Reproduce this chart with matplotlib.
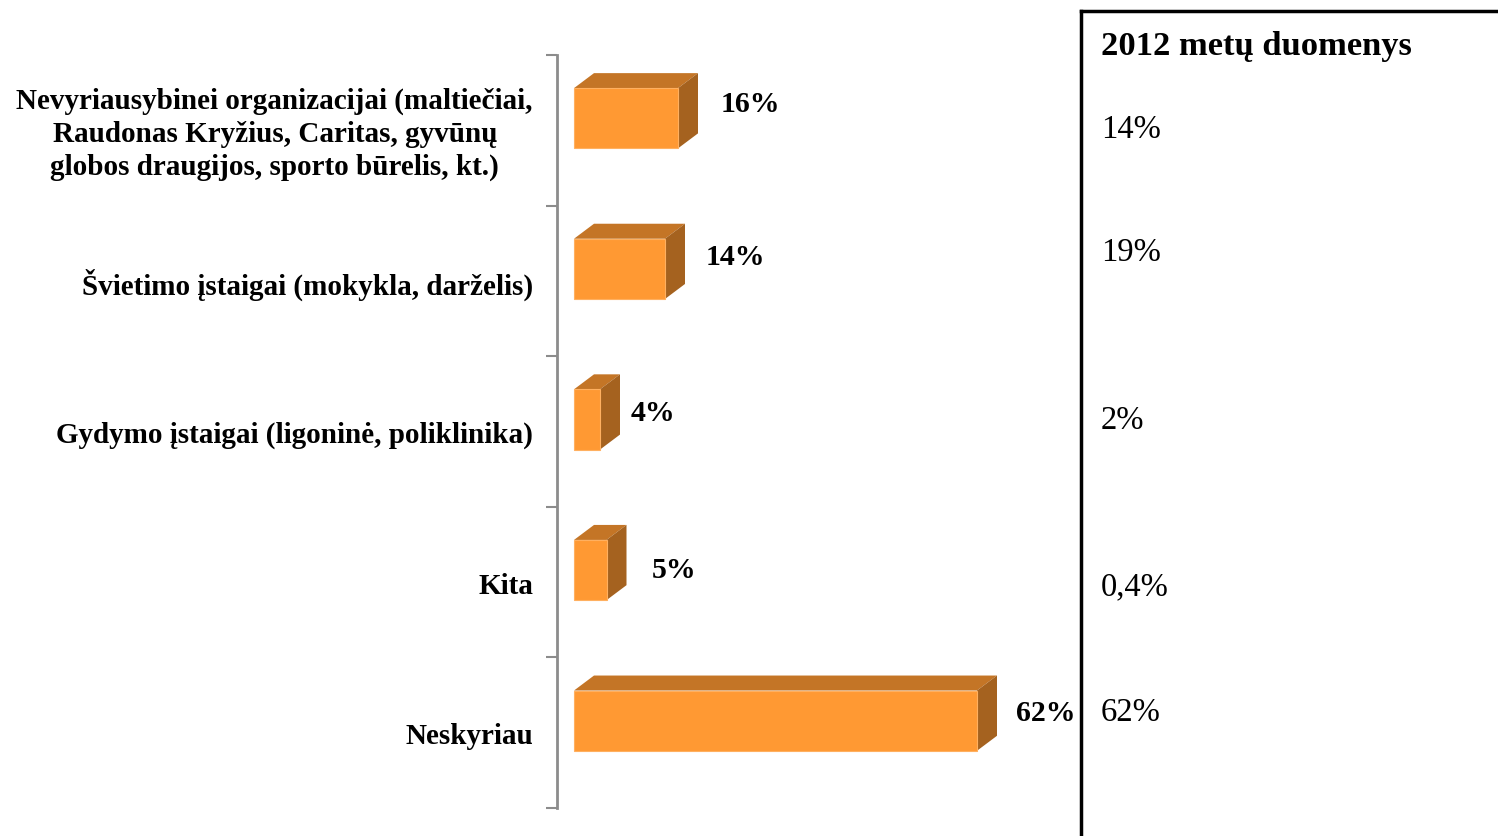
import matplotlib.pyplot as plt
from matplotlib.patches import Polygon
import numpy as np

plt.rcParams['font.family'] = ['Liberation Serif', 'DejaVu Serif']

categories = [
    "Nevyriausybinei organizacijai (maltiečiai,\nRaudonas Kryžius, Caritas, gyvūnų\nglobos draugijos, sporto būrelis, kt.)",
    "Švietimo įstaigai (mokykla, darželis)",
    "Gydymo įstaigai (ligoninė, poliklinika)",
    "Kita",
    "Neskyriau",
]
values = [16, 14, 4, 5, 62]
labels_2012 = ["14%", "19%", "2%", "0,4%", "62%"]
title_2012 = "2012 metų duomenys"

# layout (pixels)
W, H = 1498, 836
y_2012_px = [130, 253, 421, 587, 713]
lab_dx_px = [23, 21, 11, 25, 19]
lab_dy_px = [-14, -11, -6, 0, -7]
front = "#FF9933"
top_c = "#C47526"
side_c = "#A5621F"

fig = plt.figure(figsize=(W / 100, H / 100), dpi=100)
ax = fig.add_axes([557 / W, 1 - 808 / H, (1081 - 557) / W, (808 - 55) / H])

ppu = 6.5  # px per percent
ppy = (808 - 55) / 5.0
x0 = -17 / ppu
ax.set_xlim(x0, x0 + (1081 - 557) / ppu)
ax.set_ylim(len(values) - 0.5, -0.5)

y = np.arange(len(values))
h = 0.4
shift = -0.08
dx = 20 / ppu
dy = 15 / ppy

ax.barh(y + shift, values, height=h, color=front, edgecolor="#FFB060", linewidth=0.8, zorder=3)
for i, (yi, v) in enumerate(zip(y, values)):
    t = yi + shift - h / 2
    b = yi + shift + h / 2
    ax.add_patch(Polygon([(0, t), (v, t), (v + dx, t - dy), (dx, t - dy)],
                         closed=True, facecolor=top_c, edgecolor="none", zorder=2))
    ax.add_patch(Polygon([(v, t), (v + dx, t - dy), (v + dx, b - dy), (v, b)],
                         closed=True, facecolor=side_c, edgecolor="none", zorder=2))
    ax.text(v + dx + lab_dx_px[i] / ppu, yi + shift + lab_dy_px[i] / ppy, f"{v}%",
            ha="left", va="center", fontsize=21.5, fontweight="bold", zorder=4)

for s in ["top", "right", "bottom"]:
    ax.spines[s].set_visible(False)
ax.spines["left"].set_color("#8C8C8C")
ax.spines["left"].set_linewidth(2)
ax.set_xticks([])
ax.set_yticks(np.arange(-0.5, len(values), 1.0))
ax.set_yticklabels([])
ax.tick_params(axis="y", direction="out", length=8, width=1.5, color="#8C8C8C")

for yi, c in zip(y, categories):
    ax.text(-24 / 524, yi + 4 / ppy, c, transform=ax.get_yaxis_transform(), ha="right",
            va="center", multialignment="center", fontsize=21, fontweight="bold",
            linespacing=1.28)

# 2012 box
ax2 = fig.add_axes([1081 / W, 0, 0.5, (H - 11) / H])
ax2.set_xticks([])
ax2.set_yticks([])
ax2.patch.set_alpha(0)
for s in ["right", "bottom"]:
    ax2.spines[s].set_visible(False)
for s in ["left", "top"]:
    ax2.spines[s].set_linewidth(2.5)
    ax2.spines[s].set_color("black")

fig.text(1101 / W, 1 - 46 / H, title_2012, ha="left", va="center",
         fontsize=24.8, fontweight="bold")
for yp, lab in zip(y_2012_px, labels_2012):
    fig.text(1101 / W, 1 - yp / H, lab, ha="left", va="center", fontsize=23.5)

fig.savefig("out.png", dpi=100)
